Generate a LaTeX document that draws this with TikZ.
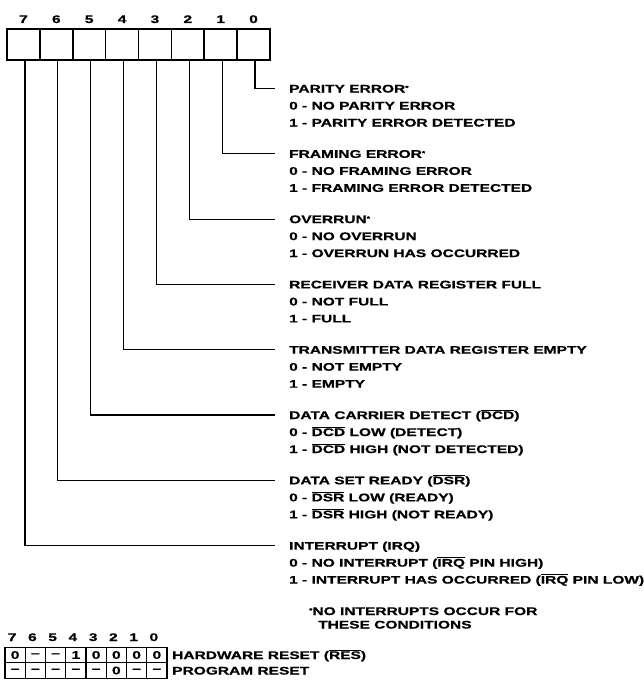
\documentclass[tikz,border=0pt]{standalone}
\usepackage{fontspec}
\setmainfont{Liberation Sans}[FakeStretch=1.41, BoldFeatures={FakeBold=0.8}]
\newcommand\ovl[1]{$\overline{\mbox{#1}}$}
\newcommand\fnstar{\raisebox{0.45ex}{\fontsize{6}{6}\selectfont *}}
\begin{document}
\begin{tikzpicture}[x=1pt,y=-1pt,
  font=\fontsize{11}{13}\selectfont\bfseries,
  regcell/.style={draw, line width=1.7pt, minimum width=32.9pt, minimum height=31pt, inner sep=0pt, outer sep=0pt},
  rstcell/.style={draw, line width=1.3pt, minimum width=20.25pt, minimum height=15.5pt, inner sep=0pt, outer sep=0pt},
  txt/.style={anchor=west, inner sep=0pt, text height=8pt, text depth=0pt},
  lbl/.style={inner sep=0pt, text height=8pt, text depth=0pt},
  conn/.style={line width=1.2pt}]
\fill[white] (0,0) rectangle (644,688);
\useasboundingbox (0,0) rectangle (644,688);
% main register
\foreach \i in {0,...,7} {
  \node[regcell] (c\i) at ({7+32.875*(7-\i+0.5)},44.5) {};
  \node[lbl] (n\i) at ({7+32.875*(7-\i+0.5)},19) {\i};
}
% descriptions
\node[txt] (t0) at (289,{88.5+65.3*0}) {PARITY ERROR\fnstar};
\node[txt] (a0) at (289,{88.5+65.3*0+17}) {0 - NO PARITY ERROR};
\node[txt] (b0) at (289,{88.5+65.3*0+34}) {1 - PARITY ERROR DETECTED};
\node[txt] (t1) at (289,{88.5+65.3*1}) {FRAMING ERROR\fnstar};
\node[txt] (a1) at (289,{88.5+65.3*1+17}) {0 - NO FRAMING ERROR};
\node[txt] (b1) at (289,{88.5+65.3*1+34}) {1 - FRAMING ERROR DETECTED};
\node[txt] (t2) at (289,{88.5+65.3*2}) {OVERRUN\fnstar};
\node[txt] (a2) at (289,{88.5+65.3*2+17}) {0 - NO OVERRUN};
\node[txt] (b2) at (289,{88.5+65.3*2+34}) {1 - OVERRUN HAS OCCURRED};
\node[txt] (t3) at (289,{88.5+65.3*3}) {RECEIVER DATA REGISTER FULL};
\node[txt] (a3) at (289,{88.5+65.3*3+17}) {0 - NOT FULL};
\node[txt] (b3) at (289,{88.5+65.3*3+34}) {1 - FULL};
\node[txt] (t4) at (289,{88.5+65.3*4}) {TRANSMITTER DATA REGISTER EMPTY};
\node[txt] (a4) at (289,{88.5+65.3*4+17}) {0 - NOT EMPTY};
\node[txt] (b4) at (289,{88.5+65.3*4+34}) {1 - EMPTY};
\node[txt] (t5) at (289,{88.5+65.3*5}) {DATA CARRIER DETECT (\ovl{DCD})};
\node[txt] (a5) at (289,{88.5+65.3*5+17}) {0 - \ovl{DCD} LOW (DETECT)};
\node[txt] (b5) at (289,{88.5+65.3*5+34}) {1 - \ovl{DCD} HIGH (NOT DETECTED)};
\node[txt] (t6) at (289,{88.5+65.3*6}) {DATA SET READY (\ovl{DSR})};
\node[txt] (a6) at (289,{88.5+65.3*6+17}) {0 - \ovl{DSR} LOW (READY)};
\node[txt] (b6) at (289,{88.5+65.3*6+34}) {1 - \ovl{DSR} HIGH (NOT READY)};
\node[txt] (t7) at (289,{88.5+65.3*7}) {INTERRUPT (IRQ)};
\node[txt] (a7) at (289,{88.5+65.3*7+17}) {0 - NO INTERRUPT (\ovl{IRQ} PIN HIGH)};
\node[txt] (b7) at (289,{88.5+65.3*7+34}) {1 - INTERRUPT HAS OCCURRED (\ovl{IRQ} PIN LOW)};
% connectors
\foreach \i in {0,...,7} {
  \draw[conn] ([xshift=1.5pt]c\i.south) |- ([xshift=-14pt]t\i.west);
}
% footnote
\node[txt] (f1) at (309,611) {\fnstar NO INTERRUPTS OCCUR FOR};
\node[txt] (f2) at (318,624.5) {THESE CONDITIONS};
% reset table
\foreach \i/\h/\p in {7/0/--,6/--/--,5/--/--,4/1/--,3/0/--,2/0/0,1/0/--,0/0/--} {
  \node[rstcell] (h\i) at ({5+20.25*(7-\i+0.5)},655) {\h};
  \node[rstcell] (p\i) at ({5+20.25*(7-\i+0.5)},670.5) {\p};
  \node[lbl] (m\i) at ({5+20.25*(7-\i+0.5)-3},637) {\i};
}
\node[txt] (hw) at (172,655) {HARDWARE RESET (\ovl{RES})};
\node[txt] (pr) at (172,670.5) {PROGRAM RESET};
\end{tikzpicture}
\end{document}
